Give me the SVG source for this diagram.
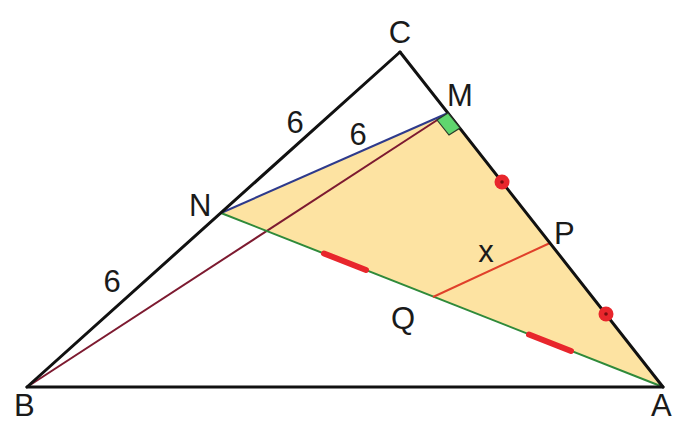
<svg xmlns="http://www.w3.org/2000/svg" width="675" height="424" viewBox="0 0 675 424">
<style>
.lbl{font-family:"Liberation Sans",Arial,sans-serif;font-size:31px;fill:#1a1a1a}
.side{stroke:#111;stroke-width:3;fill:none;stroke-linecap:round}
.thin{stroke-width:2;fill:none}
.tick{stroke:#e8262c;stroke-width:6;stroke-linecap:round}
.dot{fill:#e8262c}
.dotc{fill:#7a0d10}
</style>
<rect width="675" height="424" fill="#ffffff"/>
<g id="region">
<polygon points="221,213 448,113 663,387" fill="#fde3a2"/>
</g>
<g id="connectors">
<line class="thin" x1="27" y1="387" x2="448" y2="113" stroke="#7d1a30"/>
<line class="thin" x1="221" y1="213" x2="448" y2="113" stroke="#2e3a8c"/>
<line class="thin" x1="221" y1="213" x2="663" y2="387" stroke="#2f8a3a"/>
<line class="thin" x1="433" y1="297" x2="550" y2="243" stroke="#e0402a"/>
<line class="side" x1="27" y1="387" x2="400" y2="52"/>
<line class="side" x1="400" y1="52" x2="663" y2="387"/>
<line class="side" x1="27" y1="387" x2="663" y2="387"/>
</g>
<g id="right-angle">
<polygon points="448,113 460,128 449,135 437,120" fill="#5fd66e" stroke="#2a3a2a" stroke-width="1.2"/>
</g>
<g id="marks">
<line class="tick" x1="324" y1="253.5" x2="366" y2="270"/>
<line class="tick" x1="529" y1="334.5" x2="571" y2="351"/>
<circle class="dot" cx="502" cy="182" r="7.5"/>
<circle class="dotc" cx="502" cy="182" r="1.8"/>
<circle class="dot" cx="606" cy="314" r="7.5"/>
<circle class="dotc" cx="606" cy="314" r="1.8"/>
</g>
<g id="node-C"><text class="lbl" x="400" y="43" text-anchor="middle">C</text></g>
<g id="node-M"><text class="lbl" x="447" y="106">M</text></g>
<g id="node-N"><text class="lbl" x="189" y="216">N</text></g>
<g id="node-P"><text class="lbl" x="554" y="244">P</text></g>
<g id="node-Q"><text class="lbl" x="391" y="329">Q</text></g>
<g id="node-B"><text class="lbl" x="14" y="416">B</text></g>
<g id="node-A"><text class="lbl" x="651" y="416">A</text></g>
<g id="labels">
<text class="lbl" x="295" y="133" text-anchor="middle">6</text>
<text class="lbl" x="358" y="145" text-anchor="middle">6</text>
<text class="lbl" x="112" y="292" text-anchor="middle">6</text>
<text class="lbl" x="486" y="262" text-anchor="middle">x</text>
</g>
</svg>
